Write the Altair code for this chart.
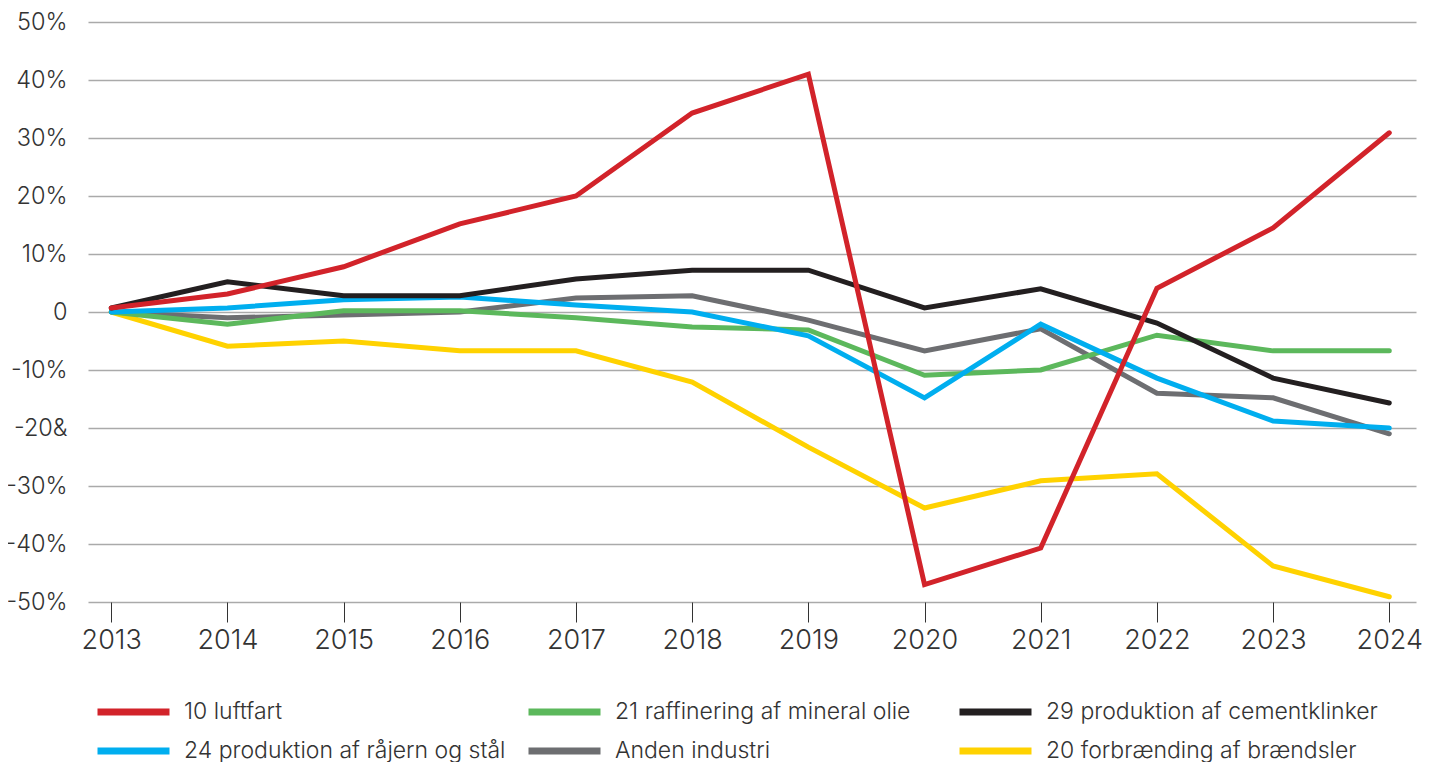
import altair as alt
import pandas as pd

years = list(range(2013, 2025))

names = [
    "10 luftfart",
    "21 raffinering af mineral olie",
    "29 produktion af cementklinker",
    "24 produktion af råjern og stål",
    "Anden industri",
    "20 forbrænding af brændsler",
]
colors = ["#d2232a", "#5cb85c", "#231f20", "#00aeef", "#6d6e71", "#ffd200"]

luftfart = [0.7, 3.1, 7.8, 15.2, 20.0, 34.3, 41.0, -47.0, -40.7, 4.1, 14.5, 30.9]
raffinering = [0.0, -2.1, 0.2, 0.2, -1.0, -2.6, -3.1, -10.9, -10.0, -4.0, -6.7, -6.7]
cement = [0.7, 5.2, 2.8, 2.8, 5.7, 7.2, 7.2, 0.7, 4.0, -1.9, -11.4, -15.7]
raajern = [0.0, 0.7, 2.1, 2.6, 1.2, 0.0, -4.1, -14.8, -2.1, -11.4, -18.8, -20.0]
anden = [0.0, -1.0, -0.5, 0.0, 2.4, 2.8, -1.4, -6.7, -2.9, -14.0, -14.8, -21.0]
forbraending = [0.0, -5.9, -5.0, -6.7, -6.7, -12.1, -23.3, -33.8, -29.1, -27.9, -43.8, -49.1]

# drawing order (bottom to top)
draw_order = [
    ("20 forbrænding af brændsler", forbraending),
    ("Anden industri", anden),
    ("21 raffinering af mineral olie", raffinering),
    ("24 produktion af råjern og stål", raajern),
    ("29 produktion af cementklinker", cement),
    ("10 luftfart", luftfart),
]

rows = []
for name, vals in draw_order:
    for yr, v in zip(years, vals):
        rows.append({"series": name, "year": yr, "value": v})
df = pd.DataFrame(rows)

label_expr = "datum.value == 0 ? '0' : (datum.value == -20 ? '-20&' : datum.value + '%')"

chart = (
    alt.Chart(df)
    .mark_line(strokeWidth=5, strokeCap="round")
    .encode(
        x=alt.X(
            "year:Q",
            scale=alt.Scale(domain=[2012.8, 2024.23], nice=False, zero=False),
            axis=alt.Axis(
                values=years,
                format="d",
                title=None,
                grid=False,
                domain=False,
                tickSize=20,
                tickColor="#333333",
                tickWidth=1,
                labelFontSize=27,
                labelPadding=5,
                labelColor="#333333",
                labelFlush=False,
            ),
        ),
        y=alt.Y(
            "value:Q",
            scale=alt.Scale(domain=[-50, 50], nice=False),
            axis=alt.Axis(
                values=list(range(-50, 51, 10)),
                title=None,
                ticks=False,
                domain=False,
                gridColor="#aaaaaa",
                gridWidth=1.5,
                labelExpr=label_expr,
                labelFontSize=23.5,
                labelPadding=21,
                labelColor="#333333",
            ),
        ),
        color=alt.Color(
            "series:N",
            scale=alt.Scale(domain=names, range=colors),
            legend=alt.Legend(
                title=None,
                orient="none",
                direction="horizontal",
                legendX=6,
                legendY=679,
                columns=3,
                gridAlign="all",
                symbolType="stroke",
                symbolSize=5184,
                symbolStrokeWidth=7,
                labelFontSize=23,
                labelOffset=11,
                labelLimit=0,
                labelColor="#333333",
                columnPadding=9,
                rowPadding=16,
                clipHeight=22,
            ),
        ),
    )
    .properties(
        width=1328,
        height=580,
        autosize=alt.AutoSizeParams(type="none"),
        padding={"left": 80, "top": 14, "right": 13, "bottom": 160},
    )
    .configure(font="Inter")
    .configure_axis(labelFontWeight=300)
    .configure_legend(labelFontWeight=300)
    .configure_view(stroke=None)
)

chart.save("out.html", embed_options={"renderer": "svg", "actions": False})
